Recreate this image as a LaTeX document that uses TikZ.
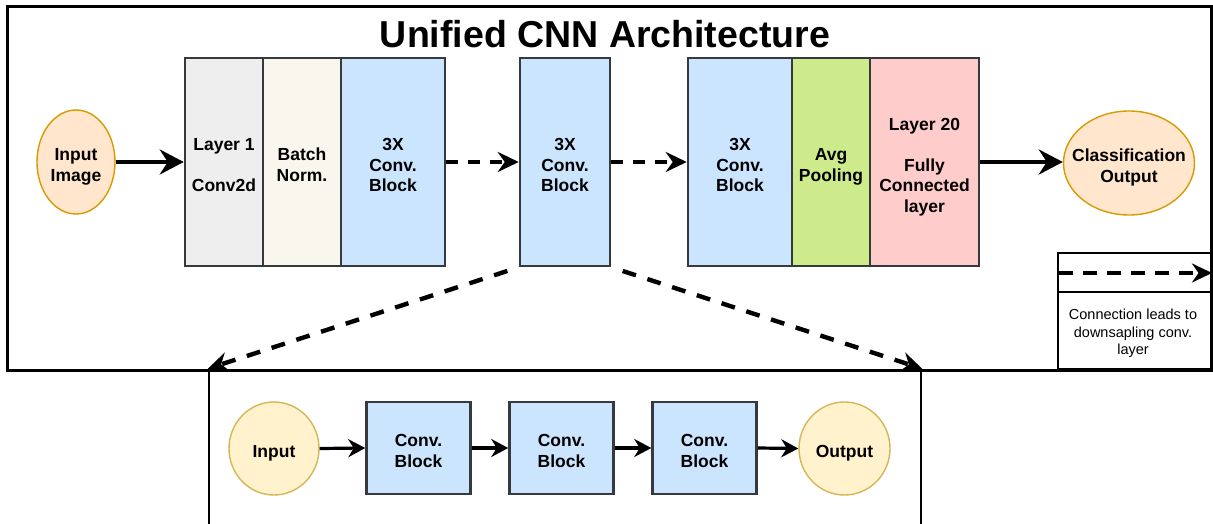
\documentclass[tikz,border=0pt]{standalone}
\usepackage{fontspec}
\setmainfont{Liberation Sans}
\usetikzlibrary{arrows.meta,shapes.geometric}

\definecolor{edge}{HTML}{36393D}
\definecolor{fgray}{HTML}{EEEEEE}
\definecolor{fcream}{HTML}{F9F7ED}
\definecolor{fblue}{HTML}{CCE5FF}
\definecolor{fgreen}{HTML}{CDEB8B}
\definecolor{fred}{HTML}{FFCCCC}
\definecolor{forange}{HTML}{FFE6CC}
\definecolor{sorange}{HTML}{D79B00}
\definecolor{fyellow}{HTML}{FFF2CC}
\definecolor{syellow}{HTML}{D6B656}

% invisible struts that fix the vertical placement of label text
\newcommand{\hitop}{\rule{0pt}{22pt}}
\newcommand{\lowbot}{\rule[-4pt]{0pt}{4pt}}

\tikzset{
  lbl/.style={font=\bfseries\fontsize{17.5}{20.5}\selectfont, align=center},
  layerbox/.style={rectangle, draw=edge, line width=2.5pt, inner sep=0pt,
    minimum height=208pt, lbl},
  blockbox/.style={rectangle, draw=edge, line width=2.5pt, inner sep=0pt,
    fill=fblue, minimum width=104pt, minimum height=92pt, lbl},
  io/.style={ellipse, line width=1.4pt, inner sep=0pt, lbl},
  frame/.style={rectangle, draw=black, line width=3pt, inner sep=0pt},
  bigarrow/.style={line width=4pt,
    -{Stealth[length=24pt,width=25pt,inset=8pt]}},
  smallarrow/.style={line width=3.2pt,
    -{Stealth[length=17pt,width=18pt,inset=5.5pt]}},
  dasharrow/.style={line width=3.6pt, dash pattern=on 12pt off 10pt,
    -{Stealth[length=21pt,width=20pt,inset=7pt]}},
  diagarrow/.style={line width=4.4pt, dash pattern=on 14pt off 12pt,
    dash phase=14pt, -{Stealth[length=21pt,width=20pt,inset=7pt]}},
}

\begin{document}
\begin{tikzpicture}[x=1pt, y=-1pt]
\useasboundingbox (0,0) rectangle (1213,524);
\clip (0,0) rectangle (1213,524);
\fill[white] (0,0) rectangle (1213,524);

% outer frame and title
\node[frame, minimum width=1204.5pt, minimum height=363pt] (outer) at (609.25,188.5) {};
\node[font=\bfseries\fontsize{37.5}{40}\selectfont] (title) at (605,34) {Unified CNN Architecture};

% main pipeline
\node[io, draw=sorange, fill=forange, minimum width=78pt, minimum height=104pt] (img) at (76,162) {\hitop Input\\Image\lowbot};
\node[layerbox, fill=fgray, minimum width=78pt] (l1) at (224,162) {\hitop Layer 1\\[20.5pt]Conv2d\lowbot};
\node[layerbox, fill=fcream, minimum width=78pt] (bn) at (302,162) {\hitop Batch\\Norm.\lowbot};
\node[layerbox, fill=fblue, minimum width=104pt] (cb1) at (393,162) {\hitop 3X\\Conv.\\Block\lowbot};
\node[layerbox, fill=fblue, minimum width=90pt] (cb2) at (565,162) {\hitop 3X\\Conv.\\Block\lowbot};
\node[layerbox, fill=fblue, minimum width=104pt] (cb3) at (740,162) {\hitop 3X\\Conv.\\Block\lowbot};
\node[layerbox, fill=fgreen, minimum width=78pt] (avg) at (831,162) {\hitop Avg\\Pooling\lowbot};
\node[layerbox, fill=fred, minimum width=109pt] (fc) at (924.5,162) {\hitop Layer 20\\[20.5pt]Fully\\Connected\\layer\lowbot};
\node[io, draw=sorange, fill=forange, inner xsep=-12pt, minimum width=131pt, minimum height=104pt] (cls) at (1129,163) {\hitop Classification\\Output\lowbot};

\draw[bigarrow] (img.east) -- (l1.west);
\draw[dasharrow] (cb1.east) -- (cb2.west);
\draw[dasharrow] (cb2.east) -- (cb3.west);
\draw[bigarrow] (fc.east) -- (cls.west |- fc.east);

% legend
\node[frame, line width=2.5pt, minimum width=156pt, minimum height=116pt] (leg) at (1136,311) {};
\coordinate (divL) at (1058,292);
\coordinate (divR) at (1214,292);
\draw[line width=2.5pt] (divL) -- (divR);
\coordinate (legA) at (1059,273);
\coordinate (legB) at (1212,273);
\draw[line width=3.6pt, dash pattern=on 14pt off 10pt,
  -{Stealth[length=20pt,width=19pt,inset=6.5pt]}] (legA) -- (legB);
\node[font=\fontsize{14.5}{17.5}\selectfont, align=center] (legtxt) at (1133,333.5)
  {Connection leads to\\downsapling conv.\\layer};

% expanded conv block
\node[frame, line width=2.5pt, minimum width=712pt, minimum height=220pt] (low) at (565,480) {};
\draw[diagarrow] (cb2.south west) -- (low.north west);
\draw[diagarrow] (cb2.south east) -- (low.north east);

\node[io, draw=syellow, fill=fyellow, minimum width=90pt, minimum height=93pt] (inp) at (274,448.5) {\hitop Input\lowbot};
\node[blockbox] (c1) at (418.5,448) {\hitop Conv.\\Block\lowbot};
\node[blockbox] (c2) at (561.5,448) {\hitop Conv.\\Block\lowbot};
\node[blockbox] (c3) at (704.5,448) {\hitop Conv.\\Block\lowbot};
\node[io, draw=syellow, fill=fyellow, minimum width=91pt, minimum height=93pt] (out) at (844.5,448.5) {\hitop Output\lowbot};

\draw[smallarrow] (inp.east) -- (c1.west);
\draw[smallarrow] (c1.east) -- (c2.west);
\draw[smallarrow] (c2.east) -- (c3.west);
\draw[smallarrow] (c3.east) -- (out.west);
\end{tikzpicture}
\end{document}
